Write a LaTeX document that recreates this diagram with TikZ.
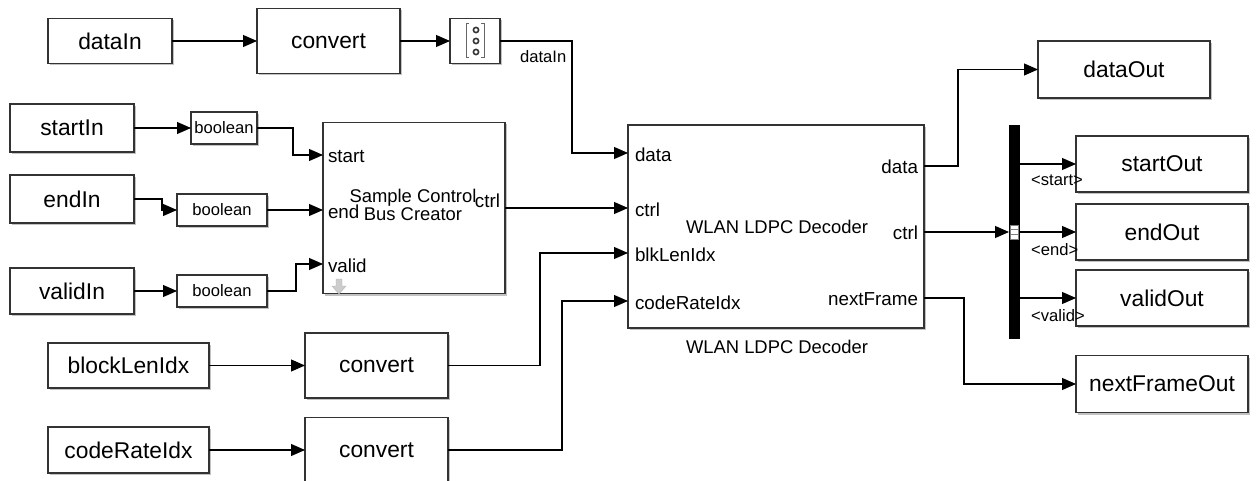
\documentclass[tikz,border=0pt]{standalone}
\usepackage{fontspec}
\setmainfont{Liberation Sans}
\usetikzlibrary{arrows.meta,calc,positioning,shadows}

\begin{document}
\begin{tikzpicture}[x=1pt,y=-1pt,inner sep=0,outer sep=0,
    blk/.style={draw=black!80,line width=1.5pt,fill=white,
      drop shadow={shadow xshift=2pt,shadow yshift=-2pt,fill=black!40,opacity=.6},
      font=\fontsize{22.8}{26}\selectfont},
    cast/.style={blk,minimum height=32pt,font=\fontsize{16.6}{18}\selectfont},
    sig/.style={line width=1.1pt,-{Triangle[length=14pt,width=12pt]}},
    port/.style={font=\fontsize{18.8}{20}\selectfont},
    title/.style={font=\fontsize{18.4}{18.5}\selectfont,align=center},
    lbl/.style={font=\fontsize{16.6}{18}\selectfont}]

   \useasboundingbox (0,0) rectangle (1256,481);

   % Inputs and conversions
   \node[blk,minimum width=124pt,minimum height=45pt] (dataIn) at (110,41) {dataIn};
   \node[blk,minimum width=143pt,minimum height=65pt] (convData) at (328.5,41) {convert};
   \node[blk,minimum width=50pt,minimum height=45pt] (vec) at (475,41) {};

   \node[blk,minimum width=124pt,minimum height=48pt] (startIn) at (72,128) {startIn};
   \node[blk,minimum width=124pt,minimum height=48pt] (endIn) at (72,199) {endIn};
   \node[blk,minimum width=124pt,minimum height=46pt] (validIn) at (72,291) {validIn};
   \node[cast,minimum width=66pt] (boolStart) at (224,128) {boolean};
   \node[cast,minimum width=90pt] (boolEnd) at (222,210) {boolean};
   \node[cast,minimum width=90pt] (boolValid) at (222,291) {boolean};

   \node[blk,minimum width=161pt,minimum height=45pt] (blockLenIdx) at (128.5,365.5) {blockLenIdx};
   \node[blk,minimum width=143pt,minimum height=65pt] (convLen) at (376.5,365.5) {convert};
   \node[blk,minimum width=161pt,minimum height=46pt] (codeRateIdx) at (128.5,450) {codeRateIdx};
   \node[blk,minimum width=143pt,minimum height=65pt] (convRate) at (376.5,450) {convert};

   % Vector icon
   \draw[black!60,line width=1pt] ($(vec.center)+(-6,-17)$) -- ++(-3,0) -- ++(0,34) -- ++(3,0);
   \draw[black!60,line width=1pt] ($(vec.center)+(6,-17)$) -- ++(3,0) -- ++(0,34) -- ++(-3,0);
   \foreach \dy in {-11,0,11}
     \draw[black!80,line width=1.6pt] ($(vec.center)+(1,\dy)$) circle[radius=2.6pt];

   % Bus creator
   \node[blk,minimum width=182pt,minimum height=171pt] (busCreate) at (414,208) {};
   \node[title] (busCreateTxt) at (413,205) {Sample Control\\Bus Creator};
   \coordinate (bcIn1) at (323,155);
   \coordinate (bcIn2) at (323,210);
   \coordinate (bcIn3) at (323,264);
   \node[port,anchor=west] (bcStart) at ($(bcIn1)+(5,2)$) {start};
   \node[port,anchor=west] (bcEnd) at ($(bcIn2)+(5,2)$) {end};
   \node[port,anchor=west] (bcValid) at ($(bcIn3)+(5,2)$) {valid};
   \node[port,anchor=east] (bcCtrl) at (500,201) {ctrl};
   \filldraw[fill=black!20,draw=black!30] (336,279) -- (342,279) -- (342,286) -- (346,286)
      -- (339,294) -- (332,286) -- (336,286) -- cycle;

   % Decoder
   \node[blk,minimum width=296pt,minimum height=203pt] (dec) at (776,226.5) {};
   \node[title] (decTxt) at (777,227) {WLAN LDPC Decoder};
   \node[title] (decName) at (777,347) {WLAN LDPC Decoder};
   \coordinate (dIn1) at (628,153);
   \coordinate (dIn2) at (628,208);
   \coordinate (dIn3) at (628,253);
   \coordinate (dIn4) at (628,301);
   \coordinate (dOut1) at (924,166);
   \coordinate (dOut2) at (924,232);
   \coordinate (dOut3) at (924,298);
   \node[port,anchor=west] (decData) at ($(dIn1)+(7,2)$) {data};
   \node[port,anchor=west] (decCtrl) at ($(dIn2)+(7,2)$) {ctrl};
   \node[port,anchor=west] (decBlk) at ($(dIn3)+(7,2)$) {blkLenIdx};
   \node[port,anchor=west] (decRate) at ($(dIn4)+(7,2)$) {codeRateIdx};
   \node[port,anchor=east] (decDataO) at ($(dOut1)+(-6,1)$) {data};
   \node[port,anchor=east] (decCtrlO) at ($(dOut2)+(-6,1)$) {ctrl};
   \node[port,anchor=east] (decNext) at ($(dOut3)+(-6,1)$) {nextFrame};

   % Bus selector
   \node[fill=black,minimum width=11pt,minimum height=214pt] (busSel) at (1014.5,232) {};
   \node[draw=black!50,fill=white,line width=.5pt,minimum width=8pt,minimum height=14pt] (selPort) at (1014,232) {};
   \foreach \f in {.33,.67}
     \draw[black!50,line width=.6pt] ($(selPort.north west)!\f!(selPort.south west)$) -- ($(selPort.north east)!\f!(selPort.south east)$);

   % Outputs
   \node[blk,minimum width=172pt,minimum height=57pt] (dataOut) at (1124,69.5) {dataOut};
   \node[blk,minimum width=172pt,minimum height=56pt] (startOut) at (1162,164) {startOut};
   \node[blk,minimum width=172pt,minimum height=56pt] (endOut) at (1162,232) {endOut};
   \node[blk,minimum width=172pt,minimum height=56pt] (validOut) at (1162,298) {validOut};
   \node[blk,minimum width=172pt,minimum height=57pt] (nextFrameOut) at (1162,384) {nextFrameOut};

   % Signal lines
   \draw[sig] (dataIn.east) -- (convData.west);
   \draw[sig] (convData.east) -- (vec.west);
   \draw[sig] (vec.east) -- node[lbl,below=9pt,pos=.6] (dataInLbl) {dataIn} ++(72,0) |- (dIn1);
   \draw[sig] (startIn.east) -- (boolStart.west);
   \draw[sig] (boolStart.east) -- ++(36,0) |- (bcIn1);
   \draw[sig] (endIn.east) -- ++(28,0) |- (boolEnd.west);
   \draw[sig] (boolEnd.east) -- (bcIn2);
   \draw[sig] (validIn.east) -- (boolValid.west);
   \draw[sig] (boolValid.east) -- ++(29,0) |- (bcIn3);
   \draw[sig] (busCreate.east) -- (dIn2);
   \draw[sig] (blockLenIdx.east) -- (convLen.west);
   \draw[sig] (convLen.east) -- ++(92,0) |- (dIn3);
   \draw[sig] (codeRateIdx.east) -- (convRate.west);
   \draw[sig] (convRate.east) -- ++(114,0) |- (dIn4);
   \draw[sig] (dOut1) -- ++(34,0) |- (dataOut.west);
   \draw[sig] (dOut2) -- (busSel.west |- dOut2);
   \draw[sig] (dOut3) -- ++(40,0) |- (nextFrameOut.west);
   \draw[sig] (busSel.east |- startOut.west) -- node[lbl,anchor=north west,pos=.2,yshift=-11pt] (selStart) {\textless start\textgreater} (startOut.west);
   \draw[sig] (busSel.east |- endOut.west) -- node[lbl,anchor=north west,pos=.2,yshift=-11pt] (selEnd) {\textless end\textgreater} (endOut.west);
   \draw[sig] (busSel.east |- validOut.west) -- node[lbl,anchor=north west,pos=.2,yshift=-11pt] (selValid) {\textless valid\textgreater} (validOut.west);

\end{tikzpicture}
\end{document}
